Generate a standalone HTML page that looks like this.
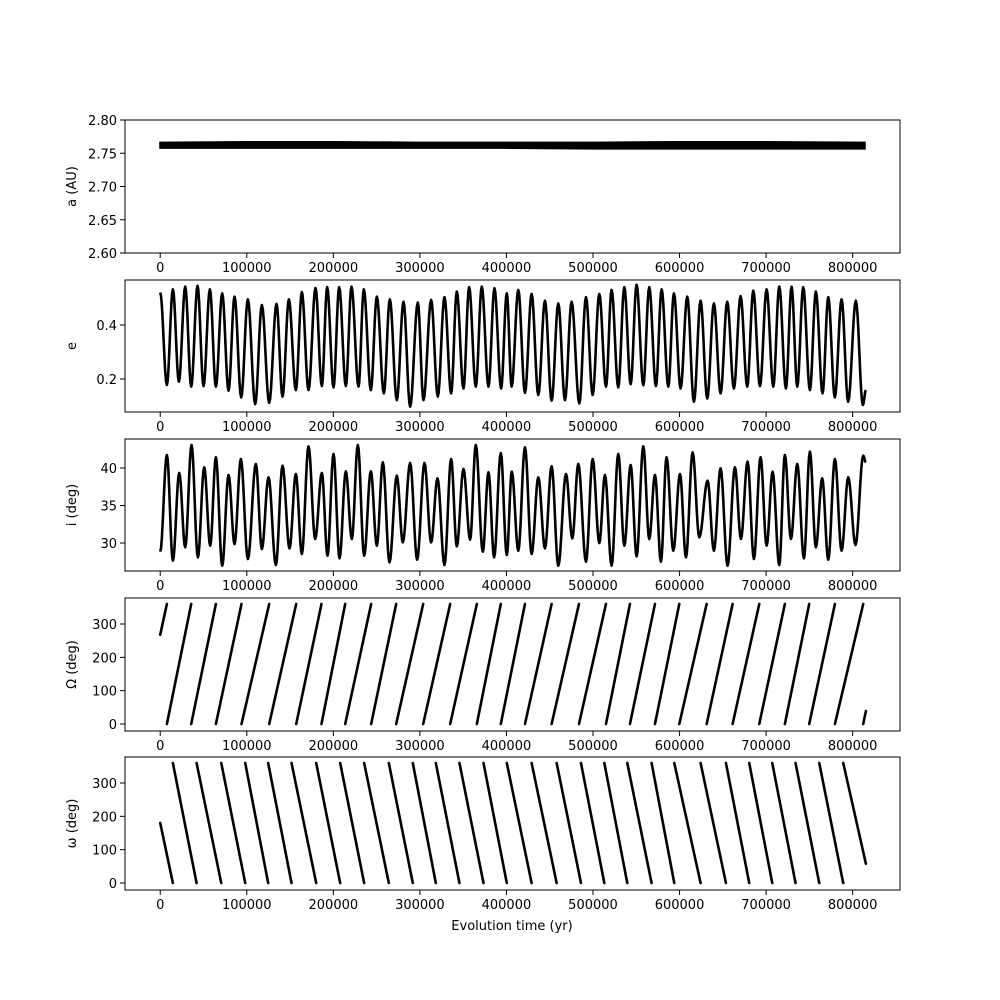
<!DOCTYPE html>
<html><head><meta charset="utf-8">
<style>
html,body{margin:0;padding:0;background:#fff;}
svg{display:block;font-family:"DejaVu Sans","Liberation Sans",sans-serif;}
</style></head>
<body>
<svg id="fig" width="1000" height="1000" viewBox="0 0 1000 1000" xmlns="http://www.w3.org/2000/svg"></svg>
<script>
// ---- data ----
const xTicks = [0,100000,200000,300000,400000,500000,600000,700000,800000];
const aTicks = [2.60,2.65,2.70,2.75,2.80];
const eTicks = [0.2,0.4];
const iTicks = [30,35,40];
const angTicks = [0,100,200,300];

const aTimes = [0,100000,200000,300000,400000,500000,600000,700000,814000];
const aMin = [2.758,2.758,2.758,2.758,2.758,2.757,2.757,2.757,2.757];
const aMax = [2.766,2.767,2.767,2.766,2.766,2.766,2.767,2.767,2.766];

const eTimes = [0,7700,14630,21560,28875,35805,43120,50050,57365,64295,71610,78925,85855,93555,101255,109725,117425,125895,134365,141295,148610,156695,163625,171325,179410,186725,192885,200200,206745,214445,220990,229075,235235,243320,250250,258335,265265,273350,281050,288750,297605,304150,313005,320705,328405,336105,342650,350350,356895,364595,371525,379225,386155,393855,400400,406000,413700,421400,429100,436800,444500,452200,459900,467600,475300,484200,491900,499600,507300,515000,521500,529200,536200,543500,550400,558100,565000,572700,579300,587000,593500,601200,608900,616600,624300,632000,639700,647400,655100,662800,670500,678200,685200,692900,700600,708300,715200,722900,729400,736000,742900,750600,757500,765200,771800,779400,787200,794800,803700,811800,815300];
const eVals = [0.520,0.178,0.532,0.190,0.542,0.172,0.545,0.174,0.532,0.172,0.517,0.157,0.505,0.132,0.495,0.107,0.474,0.112,0.478,0.135,0.495,0.159,0.522,0.159,0.537,0.174,0.540,0.169,0.540,0.174,0.542,0.172,0.532,0.159,0.505,0.147,0.495,0.122,0.486,0.098,0.483,0.122,0.493,0.135,0.503,0.147,0.524,0.165,0.540,0.172,0.542,0.172,0.536,0.165,0.517,0.172,0.530,0.149,0.515,0.141,0.490,0.120,0.480,0.122,0.486,0.110,0.503,0.141,0.515,0.172,0.530,0.169,0.540,0.181,0.549,0.177,0.540,0.174,0.532,0.172,0.517,0.165,0.505,0.116,0.490,0.128,0.480,0.147,0.486,0.165,0.507,0.172,0.527,0.174,0.532,0.172,0.542,0.165,0.542,0.172,0.540,0.159,0.524,0.147,0.503,0.132,0.495,0.116,0.490,0.104,0.159];

const iTimes = [0,7700,14630,21945,28875,36190,43505,50820,57750,64295,71610,78925,85855,93170,101255,110495,117425,125125,133595,141295,149380,156695,163625,171325,179025,186725,193270,200200,207130,214445,221375,228305,235620,243320,250250,257180,264880,273350,280280,288750,296835,305305,313005,320320,328405,336105,342650,350350,358050,364595,372680,379225,385770,393470,400400,406175,413700,421400,429100,436800,444500,452200,459900,468800,476100,483000,491900,499600,507300,513800,521500,529200,536200,543500,550400,558100,565000,571600,578500,585000,592800,600500,607400,615100,622800,632400,639700,647400,655500,664000,670900,678600,685900,693600,700600,707500,715200,721700,728700,736000,743700,750600,757500,764800,771800,779500,787200,794900,803300,812200,815300];
const iVals = [28.85,41.74,27.65,39.34,29.43,43.07,28.09,40.09,29.65,41.43,26.98,39.07,29.87,41.20,27.87,40.54,29.20,38.76,27.07,40.31,29.29,39.20,28.54,42.89,30.54,39.34,28.31,41.87,27.96,39.56,30.54,43.07,28.31,39.56,29.65,40.76,27.43,38.98,30.09,40.67,27.78,40.67,30.09,38.63,27.07,41.20,29.56,39.87,30.45,43.07,28.85,39.43,28.09,42.00,28.40,39.51,28.98,42.76,28.54,38.76,29.29,40.23,26.98,39.20,30.63,40.54,27.51,41.20,30.00,39.07,26.98,41.87,29.65,40.40,28.23,42.89,30.54,39.07,27.51,41.43,28.98,39.20,28.09,42.09,30.76,38.31,28.98,39.96,26.98,40.09,30.54,40.85,27.87,41.43,29.65,39.51,27.07,41.74,30.54,40.54,27.96,42.18,29.43,38.63,27.78,41.20,28.98,38.76,29.74,41.65,40.76];

const nodeStart = [0,268];
const nodeWraps = [7700,35800,64300,93900,125900,157100,186300,213700,243700,272600,303800,335000,365800,393500,421400,452200,483800,515000,542700,571600,599700,631300,661300,692100,721700,749800,779500,812200];
const nodeEnd = [815300,39];

const periStart = [0,180];
const periWraps = [14600,42000,70500,98200,124700,151700,180200,207900,235600,264100,291800,318400,345700,373500,400400,429100,458000,486100,513100,539600,567700,593900,624300,653600,680500,707100,734000,761400,789100];
const periEnd = [815300,58];

// ---- layout ----
const NS = "http://www.w3.org/2000/svg";
const svg = document.getElementById('fig');
const L = 125, R = 900;
const xMin = -40700, xMax = 854700;
function X(t){ return L + (t - xMin) / (xMax - xMin) * (R - L); }
function mk(tag, attrs, parent){ const e = document.createElementNS(NS, tag); for (const k in attrs) e.setAttribute(k, attrs[k]); (parent||svg).appendChild(e); return e; }

const panels = [
 {name:'a', top:120, bot:253, lo:2.60, hi:2.80, ticks:aTicks, fmt:v=>v.toFixed(2), label:'a (AU)'},
 {name:'e', top:280, bot:412, lo:0.0778, hi:0.5667, ticks:eTicks, fmt:v=>v.toFixed(1), label:'e'},
 {name:'i', top:439, bot:571, lo:26.27, hi:43.87, ticks:iTicks, fmt:v=>String(v), label:'i (deg)'},
 {name:'node', top:598, bot:731, lo:-21, hi:378, ticks:angTicks, fmt:v=>String(v), label:'\u03A9 (deg)'},
 {name:'peri', top:757, bot:890, lo:-21, hi:378, ticks:angTicks, fmt:v=>String(v), label:'\u03C9 (deg)'}
];
panels.forEach(p => { p.Y = v => p.bot - (v - p.lo) / (p.hi - p.lo) * (p.bot - p.top); });

function drawAxes(p){
  const g = mk('g', {});
  
  
  xTicks.forEach(t => {
    const x = X(t);
    const tk = mk('line', {x1:x, x2:x, y1:p.bot, y2:p.bot+5, stroke:'#000', 'stroke-width':1}, g);
    
    
    const tx = mk('text', {x:x, y:p.bot+19, 'text-anchor':'middle', 'font-size':13, fill:'#000'}, g);
    
    
    tx.textContent = String(t);
  });
  p.ticks.forEach(v => {
    const y = p.Y(v);
    const tk = mk('line', {x1:L-5, x2:L, y1:y, y2:y, stroke:'#000', 'stroke-width':1}, g);
    
    
    const tx = mk('text', {x:L-8, y:y+5, 'text-anchor':'end', 'font-size':13, fill:'#000'}, g);
    
    
    tx.textContent = p.fmt(v);
  });
  const yl = mk('text', {x:0, y:0, 'text-anchor':'middle', 'font-size':13, fill:'#000', transform:'translate(76,'+((p.top+p.bot)/2)+') rotate(-90)'}, g);
  
  
  yl.textContent = p.label;
  return g;
}

function frame(p){
  const r = mk('rect', {x:L, y:p.top, width:R-L, height:p.bot-p.top, fill:'none', stroke:'#000', 'stroke-width':1});
  
  
}

panels.forEach(p => drawAxes(p));

// panel a: band
(function(){
  const p = panels[0];
  let pts = [];
  for (let k = 0; k < aTimes.length; k++) pts.push(X(aTimes[k]) + ',' + p.Y(aMax[k]));
  for (let k = aTimes.length - 1; k >= 0; k--) pts.push(X(aTimes[k]) + ',' + p.Y(aMin[k]));
  const poly = mk('polygon', {points: pts.join(' '), fill:'#000', stroke:'#000', 'stroke-width':2});
  
  
})();

// smooth (cosine) curve through extrema
function extremaPath(p, times, vals){
  let d = 'M' + X(times[0]).toFixed(2) + ',' + p.Y(vals[0]).toFixed(2);
  for (let k = 0; k < times.length - 1; k++){
    const t0 = times[k], t1 = times[k+1], v0 = vals[k], v1 = vals[k+1];
    for (let s = 1; s <= 8; s++){
      const f = s / 8, w = (1 - Math.cos(Math.PI * f)) / 2;
      d += ' L' + X(t0 + (t1 - t0) * f).toFixed(2) + ',' + p.Y(v0 + (v1 - v0) * w).toFixed(2);
    }
  }
  return d;
}
(function(){
  const pe = mk('path', {d: extremaPath(panels[1], eTimes, eVals), fill:'none', stroke:'#000', 'stroke-width':2.6, 'stroke-linejoin':'round'});
  
  
  const pi = mk('path', {d: extremaPath(panels[2], iTimes, iVals), fill:'none', stroke:'#000', 'stroke-width':2.6, 'stroke-linejoin':'round'});
  
  
})();

// angle panels: wrapping segments
function wrapPath(p, start, wraps, end, rising){
  const top = 360, bot = 0;
  let d = '';
  // first partial segment
  d += 'M' + X(start[0]) + ',' + p.Y(start[1]) + ' L' + X(wraps[0]) + ',' + p.Y(rising ? top : bot);
  for (let k = 0; k < wraps.length - 1; k++){
    d += ' M' + X(wraps[k]) + ',' + p.Y(rising ? bot : top) + ' L' + X(wraps[k+1]) + ',' + p.Y(rising ? top : bot);
  }
  d += ' M' + X(wraps[wraps.length-1]) + ',' + p.Y(rising ? bot : top) + ' L' + X(end[0]) + ',' + p.Y(end[1]);
  return d;
}
(function(){
  const pn = mk('path', {d: wrapPath(panels[3], nodeStart, nodeWraps, nodeEnd, true), fill:'none', stroke:'#000', 'stroke-width':2.6, 'stroke-linecap':'round'});
  
  
  const pw = mk('path', {d: wrapPath(panels[4], periStart, periWraps, periEnd, false), fill:'none', stroke:'#000', 'stroke-width':2.6, 'stroke-linecap':'round'});
  
  
})();

panels.forEach(p => frame(p));

const xl = mk('text', {x:512, y:930, 'text-anchor':'middle', 'font-size':13, fill:'#000'});


xl.textContent = 'Evolution time (yr)';
</script>
</body></html>
